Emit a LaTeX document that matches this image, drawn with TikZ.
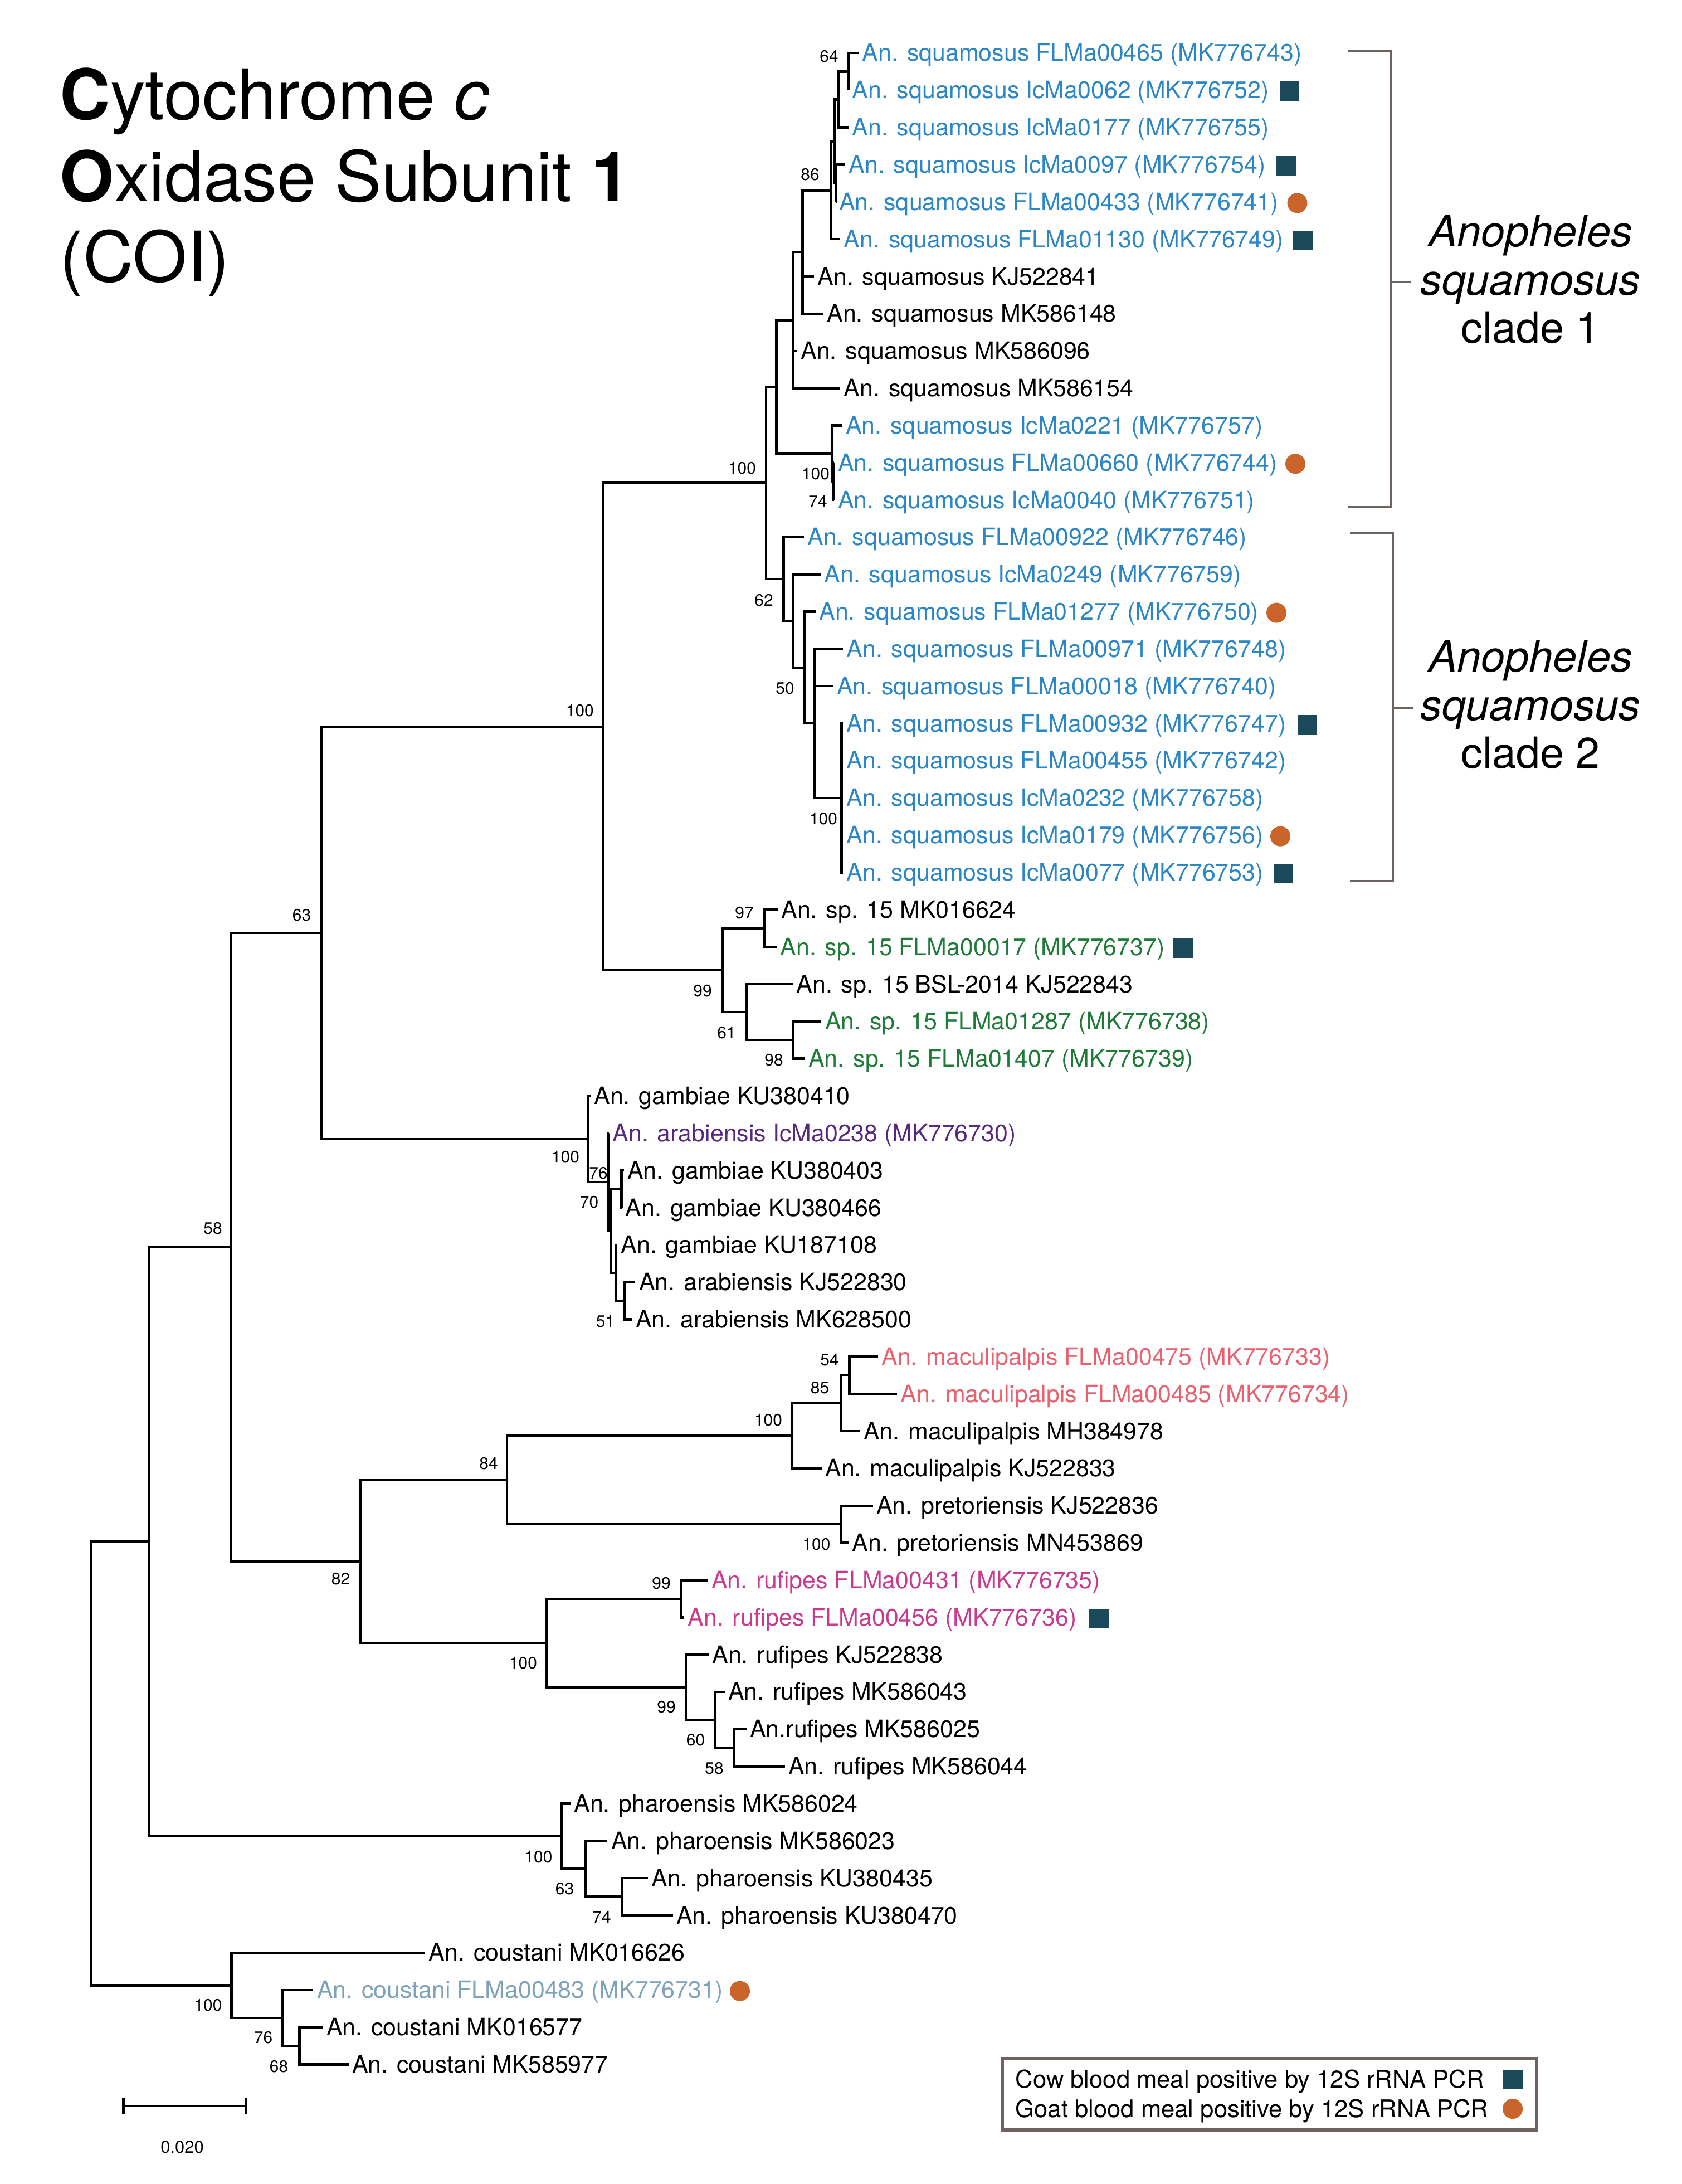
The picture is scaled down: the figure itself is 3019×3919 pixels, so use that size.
\documentclass[tikz,border=0pt]{standalone}
\usepackage{fontspec}
\setmainfont{TeX Gyre Heros}
\usetikzlibrary{calc}
\definecolor{sqb}{RGB}{43,134,197}
\definecolor{spg}{RGB}{29,122,55}
\definecolor{arp}{RGB}{85,41,127}
\definecolor{mcs}{RGB}{233,97,111}
\definecolor{rfm}{RGB}{201,58,142}
\definecolor{cog}{RGB}{127,162,187}
\definecolor{sqcol}{RGB}{27,75,91}
\definecolor{cicol}{RGB}{201,101,43}
\definecolor{frm}{RGB}{109,99,96}
\newcommand\R[1]{28.16+66.84*(#1)}
\tikzset{
  br/.style={line width=1.25pt, line cap=butt, line join=miter},
  leaflab/.style={inner sep=0pt, anchor=base west, font=\fontsize{12.2}{14}\selectfont},
  bs/.style={inner sep=0pt, font=\fontsize{8.5}{10}\selectfont},
  sqm/.style={fill=sqcol, minimum size=0.35cm, inner sep=0pt},
  cim/.style={circle, fill=cicol, minimum size=0.36cm, inner sep=0pt},
  cladelab/.style={inner sep=0pt, anchor=base, font=\fontsize{22}{26}\selectfont},
  titlelab/.style={inner sep=0pt, anchor=base west, font=\fontsize{35.6}{40}\selectfont},
  legtext/.style={inner sep=0pt, anchor=base west, font=\fontsize{12.4}{14}\selectfont},
  brk/.style={draw=frm, line width=1.2pt, line join=miter}
}
\newcommand\leaf[5]{%
  \coordinate (#1) at ({#3-6},{\R{#2}});
  \node[leaflab,text=#4] (#1l) at ({#3},{\R{#2}+15}) {#5};}
\newcommand\inode[3]{\coordinate (#1) at (#2,{\R{#3}});}
\newcommand\cl[3]{\draw[br] (#2) -| (#1) |- (#3);}
\newcommand\clm[4]{\draw[br] (#2) -| (#1) |- (#3);
  \foreach \ch in {#4}{\draw[br] (#1 |- \ch) -- (\ch);}}
\begin{document}
\begin{tikzpicture}[x=0.01cm,y=-0.01cm]
\fill[white] (0,0) rectangle (3019,3919);
\useasboundingbox (0,0) rectangle (3019,3919);

% ---------- title ----------
\node[titlelab] (t1) at (107,215) {\textbf{C}ytochrome \textit{c}};
\node[titlelab] (t2) at (107,362) {\textbf{O}xidase Subunit \textbf{1}};
\node[titlelab] (t3) at (107,506) {(COI)};

% ---------- leaves ----------
\leaf{L1}{1}{1547}{sqb}{An. squamosus FLMa00465 (MK776743)}
\leaf{L2}{2}{1529}{sqb}{An. squamosus IcMa0062 (MK776752)}
\leaf{L3}{3}{1529}{sqb}{An. squamosus IcMa0177 (MK776755)}
\leaf{L4}{4}{1523}{sqb}{An. squamosus IcMa0097 (MK776754)}
\leaf{L5}{5}{1505.5}{sqb}{An. squamosus FLMa00433 (MK776741)}
\leaf{L6}{6}{1514}{sqb}{An. squamosus FLMa01130 (MK776749)}
\leaf{L7}{7}{1467}{black}{An. squamosus KJ522841}
\leaf{L8}{8}{1483.8}{black}{An. squamosus MK586148}
\leaf{L9}{9}{1436.8}{black}{An. squamosus MK586096}
\leaf{L10}{10}{1514}{black}{An. squamosus MK586154}
\leaf{L11}{11}{1517.5}{sqb}{An. squamosus IcMa0221 (MK776757)}
\leaf{L12}{12}{1503.4}{sqb}{An. squamosus FLMa00660 (MK776744)}
\leaf{L13}{13}{1503.4}{sqb}{An. squamosus IcMa0040 (MK776751)}
\leaf{L14}{14}{1448.7}{sqb}{An. squamosus FLMa00922 (MK776746)}
\leaf{L15}{15}{1478.9}{sqb}{An. squamosus IcMa0249 (MK776759)}
\leaf{L16}{16}{1469.8}{sqb}{An. squamosus FLMa01277 (MK776750)}
\leaf{L17}{17}{1518.9}{sqb}{An. squamosus FLMa00971 (MK776748)}
\leaf{L18}{18}{1501.3}{sqb}{An. squamosus FLMa00018 (MK776740)}
\leaf{L19}{19}{1518.9}{sqb}{An. squamosus FLMa00932 (MK776747)}
\leaf{L20}{20}{1518.9}{sqb}{An. squamosus FLMa00455 (MK776742)}
\leaf{L21}{21}{1518.9}{sqb}{An. squamosus IcMa0232 (MK776758)}
\leaf{L22}{22}{1518.9}{sqb}{An. squamosus IcMa0179 (MK776756)}
\leaf{L23}{23}{1518.9}{sqb}{An. squamosus IcMa0077 (MK776753)}
\leaf{L24}{24}{1401.7}{black}{An. sp. 15 MK016624}
\leaf{L25}{25}{1400}{spg}{An. sp. 15 FLMa00017 (MK776737)}
\leaf{L26}{26}{1429}{black}{An. sp. 15 BSL-2014 KJ522843}
\leaf{L27}{27}{1480.4}{spg}{An. sp. 15 FLMa01287 (MK776738)}
\leaf{L28}{28}{1450.6}{spg}{An. sp. 15 FLMa01407 (MK776739)}
\leaf{L29}{29}{1065.8}{black}{An. gambiae KU380410}
\leaf{L30}{30}{1099}{arp}{An. arabiensis IcMa0238 (MK776730)}
\leaf{L31}{31}{1125.5}{black}{An. gambiae KU380403}
\leaf{L32}{32}{1122.2}{black}{An. gambiae KU380466}
\leaf{L33}{33}{1114}{black}{An. gambiae KU187108}
\leaf{L34}{34}{1146.3}{black}{An. arabiensis KJ522830}
\leaf{L35}{35}{1140.5}{black}{An. arabiensis MK628500}
\leaf{L36}{36}{1581.7}{mcs}{An. maculipalpis FLMa00475 (MK776733)}
\leaf{L37}{37}{1616.2}{mcs}{An. maculipalpis FLMa00485 (MK776734)}
\leaf{L38}{38}{1549.6}{black}{An. maculipalpis MH384978}
\leaf{L39}{39}{1480.7}{black}{An. maculipalpis KJ522833}
\leaf{L40}{40}{1572.6}{black}{An. pretoriensis KJ522836}
\leaf{L41}{41}{1528.9}{black}{An. pretoriensis MN453869}
\leaf{L42}{42}{1276.3}{rfm}{An. rufipes FLMa00431 (MK776735)}
\leaf{L43}{43}{1233.9}{rfm}{An. rufipes FLMa00456 (MK776736)}
\leaf{L44}{44}{1277.8}{black}{An. rufipes KJ522838}
\leaf{L45}{45}{1306.5}{black}{An. rufipes MK586043}
\leaf{L46}{46}{1345.6}{black}{An.rufipes MK586025}
\leaf{L47}{47}{1414.5}{black}{An. rufipes MK586044}
\leaf{L48}{48}{1029.8}{black}{An. pharoensis MK586024}
\leaf{L49}{49}{1096.4}{black}{An. pharoensis MK586023}
\leaf{L50}{50}{1168.8}{black}{An. pharoensis KU380435}
\leaf{L51}{51}{1213.5}{black}{An. pharoensis KU380470}
\leaf{L52}{52}{769.2}{black}{An. coustani MK016626}
\leaf{L53}{53}{568.3}{cog}{An. coustani FLMa00483 (MK776731)}
\leaf{L54}{54}{585.5}{black}{An. coustani MK016577}
\leaf{L55}{55}{631.5}{black}{An. coustani MK585977}

% ---------- internal nodes ----------
\inode{n64}{1523}{1.5}
\inode{n3}{1505.5}{2.25}
\inode{nY}{1501}{4.5}
\inode{nP1}{1498.5}{3.375}
\inode{n86}{1490.8}{4.6875}
\inode{nQ}{1440.3}{6.34375}
\inode{nR}{1424.2}{8.171875}
\inode{nU}{1496.4}{12.5}
\inode{nT}{1492.9}{11.75}
\inode{nS}{1393.3}{9.9609}
\inode{nJ}{1510.5}{21}
\inode{nI}{1461.3}{19}
\inode{nH}{1443.8}{17.5}
\inode{nG}{1424.2}{16.25}
\inode{nF}{1406.6}{15.125}
\inode{nE}{1375.1}{12.543}
\inode{nL}{1372.6}{24.5}
\inode{nN}{1424}{27.5}
\inode{nM}{1339.5}{26.75}
\inode{nK}{1296.4}{25.625}
\inode{nD}{1082.4}{19.084}
\inode{nV2}{1115.6}{31.5}
\inode{nA2}{1120.6}{34.5}
\inode{nW2}{1105.6}{33.75}
\inode{nW1}{1097}{32.625}
\inode{nV1}{1092.4}{31.3125}
\inode{nG0}{1056}{30.15625}
\inode{nC}{576.6}{24.62}
\inode{n54}{1524.3}{36.5}
\inode{n85}{1509.4}{37.25}
\inode{nMac}{1421}{38.125}
\inode{nPre}{1509.4}{40.5}
\inode{n84}{910.1}{39.3125}
\inode{nR1}{1222.4}{42.5}
\inode{nR4}{1318}{46.5}
\inode{nR3}{1283.6}{45.75}
\inode{nR2}{1231}{44.875}
\inode{nRuf}{981.5}{43.6875}
\inode{n82}{646.5}{41.5}
\inode{nB}{414.3}{33.06}
\inode{nP3}{1116}{50.5}
\inode{nP2}{1050.5}{49.75}
\inode{nPh}{1008}{48.875}
\inode{nA}{267.5}{40.97}
\inode{nC3}{537.3}{54.5}
\inode{nC2}{507.5}{53.75}
\inode{nCo}{415.6}{52.875}
\inode{root}{164.2}{46.92}

% ---------- branches ----------
\cl{n64}{L1}{L2}
\cl{n3}{n64}{L3}
\cl{nY}{L4}{L5}
\cl{nP1}{n3}{nY}
\cl{n86}{nP1}{L6}
\clm{nQ}{n86}{L8}{L7}
\clm{nR}{nQ}{L10}{L9}
\cl{nU}{L12}{L13}
\cl{nT}{L11}{nU}
\cl{nS}{nR}{nT}
\clm{nJ}{L19}{L23}{L20,L21,L22}
\clm{nI}{L17}{nJ}{L18}
\cl{nH}{L16}{nI}
\cl{nG}{L15}{nH}
\cl{nF}{L14}{nG}
\cl{nE}{nS}{nF}
\cl{nL}{L24}{L25}
\cl{nN}{L27}{L28}
\cl{nM}{L26}{nN}
\cl{nK}{nL}{nM}
\cl{nD}{nE}{nK}
\cl{nV2}{L31}{L32}
\cl{nA2}{L34}{L35}
\cl{nW2}{L33}{nA2}
\cl{nW1}{nV2}{nW2}
\cl{nV1}{L30}{nW1}
\cl{nG0}{L29}{nV1}
\cl{nC}{nD}{nG0}
\cl{n54}{L36}{L37}
\cl{n85}{n54}{L38}
\cl{nMac}{n85}{L39}
\cl{nPre}{L40}{L41}
\cl{n84}{nMac}{nPre}
\cl{nR1}{L42}{L43}
\cl{nR4}{L46}{L47}
\cl{nR3}{L45}{nR4}
\cl{nR2}{L44}{nR3}
\cl{nRuf}{nR1}{nR2}
\cl{n82}{n84}{nRuf}
\cl{nB}{nC}{n82}
\cl{nP3}{L50}{L51}
\cl{nP2}{L49}{nP3}
\cl{nPh}{L48}{nP2}
\cl{nA}{nB}{nPh}
\cl{nC3}{L54}{L55}
\cl{nC2}{L53}{nC3}
\cl{nCo}{L52}{nC2}
\cl{root}{nA}{nCo}

% ---------- bootstrap values ----------
\node[bs] (b64) at (1488,101) {64};
\node[bs] (b86) at (1454,313) {86};
\node[bs] (bE) at (1332,840) {100};
\node[bs] (bU) at (1464,850) {100};
\node[bs] (b74a) at (1468,900) {74};
\node[bs] (b62) at (1371,1077) {62};
\node[bs] (b50) at (1409,1235) {50};
\node[bs] (bJ) at (1478,1469) {100};
\node[bs] (b97) at (1336,1638) {97};
\node[bs] (b99a) at (1261,1778) {99};
\node[bs] (b61) at (1304,1853) {61};
\node[bs] (b98) at (1389,1902) {98};
\node[bs] (bD) at (1040.8,1275.5) {100};
\node[bs] (bG0) at (1015,2076) {100};
\node[bs] (b76a) at (1074,2105) {76};
\node[bs] (b70) at (1057.5,2157) {70};
\node[bs] (b51) at (1086.6,2371) {51};
\node[bs] (b54) at (1489,2440) {54};
\node[bs] (b85) at (1471.5,2490) {85};
\node[bs] (bMac) at (1379,2548) {100};
\node[bs] (bPre) at (1465.5,2771) {100};
\node[bs] (b84) at (877,2626) {84};
\node[bs] (b99b) at (1187,2841) {99};
\node[bs] (bRuf) at (939,2984) {100};
\node[bs] (b99c) at (1196,3063) {99};
\node[bs] (b60) at (1248.5,3122) {60};
\node[bs] (b58a) at (1282,3173) {58};
\node[bs] (bPh) at (966.5,3332) {100};
\node[bs] (b63a) at (1013.5,3389) {63};
\node[bs] (b74b) at (1080,3440) {74};
\node[bs] (bCo) at (373.5,3598) {100};
\node[bs] (b76b) at (472.5,3656) {76};
\node[bs] (b68) at (500.5,3708) {68};
\node[bs] (b63b) at (541.6,1642) {63};
\node[bs] (b58b) at (382,2204) {58};
\node[bs] (b82) at (611.5,2833) {82};

% ---------- blood meal markers ----------
\node[sqm] (m2) at (2314,{\R{2}+2}) {};
\node[sqm] (m4) at (2308.6,{\R{4}+2}) {};
\node[cim] (m5) at (2328.5,{\R{5}+2}) {};
\node[sqm] (m6) at (2338.8,{\R{6}+2}) {};
\node[cim] (m12) at (2325,{\R{12}+2}) {};
\node[cim] (m16) at (2291,{\R{16}+2}) {};
\node[sqm] (m19) at (2346.6,{\R{19}+2}) {};
\node[cim] (m22) at (2298,{\R{22}+2}) {};
\node[sqm] (m23) at (2303.5,{\R{23}+2}) {};
\node[sqm] (m25) at (2123,{\R{25}+2}) {};
\node[sqm] (m43) at (1972,{\R{43}+2}) {};
\node[cim] (m53) at (1328,{\R{53}+2}) {};

% ---------- clade brackets ----------
\coordinate (k1a) at (2419,91);
\coordinate (k1b) at (2497,91);
\coordinate (k1c) at (2497,910);
\coordinate (k1d) at (2419,910);
\coordinate (k1m) at (2497,506);
\coordinate (k1t) at (2533,506);
\draw[brk] (k1a) -- (k1b) -- (k1c) -- (k1d);
\draw[brk] (k1m) -- (k1t);
\coordinate (k2a) at (2423,956);
\coordinate (k2b) at (2500,956);
\coordinate (k2c) at (2500,1581);
\coordinate (k2d) at (2423,1581);
\coordinate (k2m) at (2500,1271);
\coordinate (k2t) at (2536,1271);
\draw[brk] (k2a) -- (k2b) -- (k2c) -- (k2d);
\draw[brk] (k2m) -- (k2t);

\node[cladelab] (c1a) at (2747,443) {\itshape Anopheles};
\node[cladelab] (c1b) at (2747,530) {\itshape squamosus};
\node[cladelab] (c1c) at (2747,616) {clade 1};
\node[cladelab] (c2a) at (2747,1205) {\itshape Anopheles};
\node[cladelab] (c2b) at (2747,1292) {\itshape squamosus};
\node[cladelab] (c2c) at (2747,1378) {clade 2};

% ---------- legend ----------
\draw[draw=frm, line width=1.5pt] (1799,3694) rectangle (2758,3822);
\node[legtext] (lg1) at (1822,3746) {Cow blood meal positive by 12S rRNA PCR};
\node[legtext] (lg2) at (1822,3799) {Goat blood meal positive by 12S rRNA PCR};
\node[sqm] (lgs) at (2715,3731) {};
\node[cim] (lgc) at (2715,3784) {};

% ---------- scale bar ----------
\coordinate (sb1) at (221.6,3779);
\coordinate (sb2) at (442,3779);
\draw[br] (sb1) -- (sb2);
\draw[br] ($(sb1)+(0,-14)$) -- ($(sb1)+(0,14)$);
\draw[br] ($(sb2)+(0,-14)$) -- ($(sb2)+(0,14)$);
\node[bs, font=\fontsize{8.8}{10}\selectfont] (sbl) at (327,3853) {0.020};
\end{tikzpicture}
\end{document}
